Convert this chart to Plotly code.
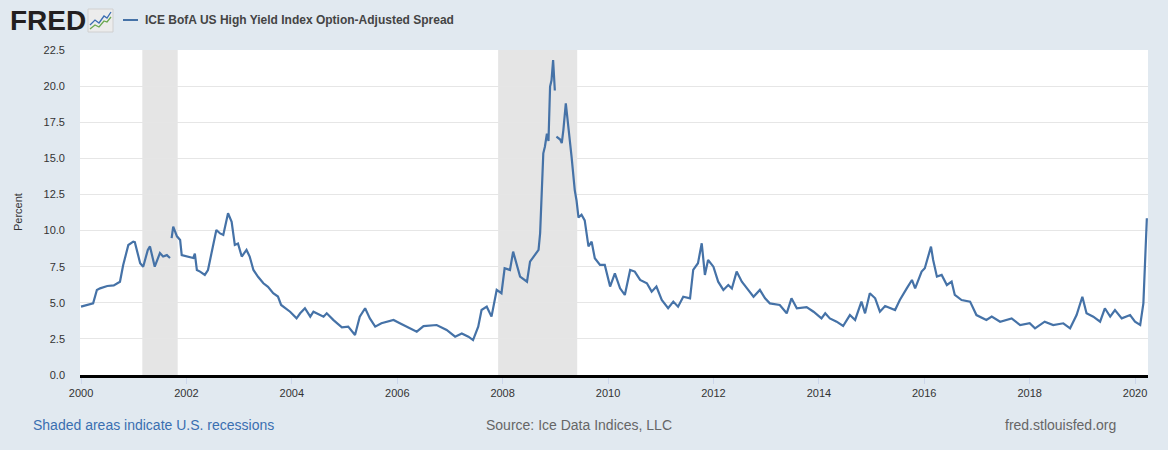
import plotly.graph_objects as go

# ---- data ----
dates = [
    "2000-01-01", "2000-02-14", "2000-03-25", "2000-04-20", "2000-05-12", "2000-07-01", "2000-08-15",
    "2000-09-27", "2000-10-19", "2000-11-24", "2000-12-28", "2001-01-08", "2001-02-14", "2001-03-07",
    "2001-04-08", "2001-04-23", "2001-05-26", "2001-07-01", "2001-07-23", "2001-08-18", "2001-09-09",
    "2001-09-12", "2001-09-20", "2001-10-01", "2001-10-27", "2001-11-18", "2001-11-29", "2002-01-01",
    "2002-02-17", "2002-02-28", "2002-03-14", "2002-04-05", "2002-05-08", "2002-05-30", "2002-06-25",
    "2002-07-27", "2002-08-22", "2002-09-13", "2002-10-16", "2002-11-10", "2002-12-02", "2002-12-24",
    "2003-01-19", "2003-02-21", "2003-03-15", "2003-04-10", "2003-05-12", "2003-06-18", "2003-07-20",
    "2003-08-25", "2003-09-27", "2003-10-19", "2003-12-20", "2004-02-03", "2004-02-28", "2004-04-01",
    "2004-05-08", "2004-05-30", "2004-08-08", "2004-08-30", "2004-10-16", "2004-12-13", "2005-01-26",
    "2005-03-14", "2005-04-16", "2005-05-23", "2005-06-25", "2005-08-01", "2005-09-13", "2005-12-06",
    "2006-01-19", "2006-03-29", "2006-05-16", "2006-07-02", "2006-10-01", "2006-12-09", "2007-02-06",
    "2007-03-24", "2007-05-09", "2007-06-10", "2007-07-16", "2007-08-08", "2007-09-13", "2007-10-16",
    "2007-11-21", "2007-12-24", "2008-01-15", "2008-02-21", "2008-03-14", "2008-05-01", "2008-06-18",
    "2008-07-09", "2008-09-06", "2008-09-17", "2008-10-09", "2008-10-20", "2008-11-03", "2008-11-14",
    "2008-11-25", "2008-12-05", "2008-12-16", "2008-12-28", "2008-12-31", "2009-01-08", "2009-02-03",
    "2009-02-14", "2009-02-25", "2009-03-14", "2009-04-01", "2009-04-23", "2009-05-15", "2009-05-27",
    "2009-06-10", "2009-07-01", "2009-07-23", "2009-08-18", "2009-09-09", "2009-10-01", "2009-11-06",
    "2009-12-09", "2010-01-15", "2010-02-17", "2010-03-25", "2010-04-27", "2010-06-03", "2010-07-05",
    "2010-08-11", "2010-09-27", "2010-10-30", "2010-12-02", "2011-01-08", "2011-02-21", "2011-03-29",
    "2011-05-01", "2011-06-06", "2011-07-23", "2011-08-14", "2011-09-16", "2011-10-12", "2011-11-03",
    "2011-11-25", "2012-01-01", "2012-02-03", "2012-03-10", "2012-04-13", "2012-05-08", "2012-06-10",
    "2012-07-16", "2012-08-29", "2012-10-05", "2012-11-18", "2012-12-24", "2013-01-26", "2013-04-05",
    "2013-05-23", "2013-06-25", "2013-08-01", "2013-10-08", "2013-11-25", "2014-01-19", "2014-02-14",
    "2014-03-18", "2014-05-04", "2014-06-18", "2014-08-04", "2014-09-09", "2014-10-23", "2014-11-17",
    "2014-12-20", "2015-01-26", "2015-02-28", "2015-04-05", "2015-06-13", "2015-07-16", "2015-09-02",
    "2015-10-08", "2015-10-30", "2015-12-14", "2016-01-05", "2016-01-30", "2016-02-17", "2016-03-03",
    "2016-03-29", "2016-05-01", "2016-06-06", "2016-07-09", "2016-07-31", "2016-09-16", "2016-11-14",
    "2016-12-28", "2017-03-07", "2017-04-13", "2017-06-10", "2017-08-29", "2017-10-27", "2018-01-01",
    "2018-02-07", "2018-04-15", "2018-06-13", "2018-08-22", "2018-10-08", "2018-11-22", "2019-01-01",
    "2019-01-30", "2019-03-18", "2019-05-04", "2019-06-06", "2019-07-13", "2019-08-15", "2019-10-01",
    "2019-11-28", "2020-01-01", "2020-02-06", "2020-02-28", "2020-03-10", "2020-03-23",
]
spread = [
    4.73, 4.85, 4.96, 5.89, 6.00, 6.16, 6.20,
    6.46, 7.60, 9.00, 9.23, 9.20, 7.74, 7.50,
    8.66, 8.90, 7.50, 8.44, 8.20, 8.30, 8.10,
    None, 9.47, 10.27, 9.60, 9.35, 8.30, 8.20,
    8.10, 8.40, 7.27, 7.16, 6.93, 7.27, 8.43,
    10.04, 9.80, 9.70, 11.20, 10.60, 9.00, 9.10,
    8.20, 8.66, 8.20, 7.27, 6.80, 6.35, 6.10,
    5.66, 5.43, 4.85, 4.38, 3.92, 4.27, 4.62,
    4.04, 4.38, 4.04, 4.27, 3.80, 3.30, 3.35,
    2.77, 4.04, 4.62, 3.92, 3.35, 3.58, 3.81,
    3.58, 3.23, 3.00, 3.38, 3.46, 3.12, 2.65,
    2.88, 2.65, 2.42, 3.35, 4.50, 4.73, 4.04,
    5.89, 5.66, 7.39, 7.27, 8.54, 6.81, 6.46,
    7.85, 8.66, 9.81, 15.35, 15.80, 16.70, 16.20,
    19.97, 20.40, 21.80, 19.70, None, 16.50, 16.30,
    16.05, 16.96, 18.80, 17.20, 15.10, 12.80, 12.10,
    10.90, 11.10, 10.70, 8.90, 9.23, 8.08, 7.62,
    7.62, 6.12, 7.04, 6.00, 5.54, 7.27, 7.16,
    6.58, 6.35, 5.77, 6.12, 5.19, 4.62, 5.08,
    4.73, 5.42, 5.31, 7.27, 7.74, 9.12, 6.93,
    7.96, 7.50, 6.46, 5.89, 6.23, 5.99, 7.16,
    6.46, 5.89, 5.42, 5.89, 5.31, 4.96, 4.85,
    4.27, 5.31, 4.62, 4.70, 4.38, 3.92, 4.27,
    3.92, 3.69, 3.39, 4.15, 3.81, 5.08, 4.27,
    5.66, 5.31, 4.38, 4.77, 4.50, 5.19, 6.00,
    6.58, 6.00, 7.16, 7.39, 8.20, 8.89, 7.96,
    6.81, 6.93, 6.23, 6.46, 5.54, 5.19, 5.08,
    4.15, 3.81, 4.04, 3.69, 3.92, 3.46, 3.58,
    3.23, 3.69, 3.46, 3.58, 3.23, 4.15, 5.42,
    4.27, 4.04, 3.69, 4.62, 4.04, 4.50, 3.92,
    4.15, 3.69, 3.46, 4.96, 7.50, 10.85,
]
recession_starts = ["2001-03-01", "2007-12-01"]
recession_ends = ["2001-11-01", "2009-06-01"]
y_ticks = [0, 2.5, 5, 7.5, 10, 12.5, 15, 17.5, 20, 22.5]

series_name = "ICE BofA US High Yield Index Option-Adjusted Spread"

# ---- geometry helpers (page pixels -> paper coords) ----
W, H = 1168, 450
ML, MR, MT, MB = 80, 20, 50, 75
PW, PH = W - ML - MR, H - MT - MB


def px(x):
    return (x - ML) / PW


def py(y):
    return (H - MB - y) / PH


FONT = "Liberation Sans, Arial, sans-serif"
LINE_COLOR = "#4572a7"

fig = go.Figure()
fig.add_trace(go.Scatter(
    x=dates, y=spread, mode="lines", name=series_name,
    line=dict(color=LINE_COLOR, width=2.2), connectgaps=False,
    hovertemplate="%{x|%Y-%m-%d}: %{y:.2f}<extra></extra>",
))

shapes = []
for s, e in zip(recession_starts, recession_ends):
    shapes.append(dict(type="rect", xref="x", yref="paper", x0=s, x1=e, y0=0, y1=1,
                       fillcolor="#e5e5e5", line=dict(width=0), layer="below"))

# FRED logo icon (decoration)
shapes.append(dict(type="rect", xref="paper", yref="paper",
                   x0=px(88), x1=px(113), y0=py(32), y1=py(9),
                   fillcolor="#ececec", line=dict(color="#d0d0d0", width=1)))


def path(points):
    return "M " + " L ".join(f"{px(a)},{py(b)}" for a, b in points)


shapes.append(dict(type="path", xref="paper", yref="paper",
                   path=path([(90, 25), (95, 20), (99, 23), (104, 16), (107, 18), (111, 12)]),
                   line=dict(color="#3b6db3", width=1.3)))
shapes.append(dict(type="path", xref="paper", yref="paper",
                   path=path([(90, 29), (95, 25), (99, 27), (104, 21), (107, 22), (111, 17)]),
                   line=dict(color="#6aa84f", width=1.3)))
# legend swatch
shapes.append(dict(type="line", xref="paper", yref="paper",
                   x0=px(123), x1=px(138), y0=py(20), y1=py(20),
                   line=dict(color=LINE_COLOR, width=2)))

annotations = [
    dict(text="<b>FRED</b>", x=px(8), y=py(20), xref="paper", yref="paper",
         xanchor="left", yanchor="middle", showarrow=False,
         font=dict(family=FONT, size=28, color="#231f20")),
    dict(text="<b>" + series_name + "</b>", x=px(143), y=py(20), xref="paper", yref="paper",
         xanchor="left", yanchor="middle", showarrow=False,
         font=dict(family=FONT, size=12, color="#444444")),
    dict(text="Percent", x=px(18), y=py(212), xref="paper", yref="paper",
         xanchor="center", yanchor="middle", textangle=-90, showarrow=False,
         font=dict(family=FONT, size=11, color="#333333")),
    dict(text="Shaded areas indicate U.S. recessions", x=px(31), y=py(425), xref="paper", yref="paper",
         xanchor="left", yanchor="middle", showarrow=False,
         font=dict(family=FONT, size=14, color="#3a6fb0")),
    dict(text="Source: Ice Data Indices, LLC", x=px(484), y=py(425), xref="paper", yref="paper",
         xanchor="left", yanchor="middle", showarrow=False,
         font=dict(family=FONT, size=14, color="#666666")),
    dict(text="fred.stlouisfed.org", x=px(1003), y=py(425), xref="paper", yref="paper",
         xanchor="left", yanchor="middle", showarrow=False,
         font=dict(family=FONT, size=14, color="#666666")),
]

fig.update_layout(
    width=W, height=H,
    margin=dict(l=ML, r=MR, t=MT, b=MB, autoexpand=False),
    paper_bgcolor="#e1e9f0", plot_bgcolor="#ffffff",
    showlegend=False,
    shapes=shapes, annotations=annotations,
    font=dict(family=FONT, size=11, color="#333333"),
    xaxis=dict(
        type="date", range=["1999-12-25", "2020-03-31"],
        tick0="2000-01-01", dtick="M24", tickformat="%Y",
        showgrid=False, zeroline=False,
        showline=True, linecolor="#000000", linewidth=2.5,
        ticks="outside", ticklen=6, tickcolor="#ccd6eb", tickwidth=1,
        tickfont=dict(family=FONT, size=11, color="#333333"),
    ),
    yaxis=dict(
        range=[0, 22.5], tickvals=y_ticks, tickformat=".1f",
        showgrid=True, gridcolor="#e6e6e6", gridwidth=1,
        zeroline=False, showline=False, ticks="",
        ticklabelstandoff=14,
        tickfont=dict(family=FONT, size=11, color="#333333"),
    ),
)

fig.write_html(
    "out.html",
    config={"displayModeBar": False},
    post_script="document.body.style.margin='0';document.body.style.padding='0';",
)
